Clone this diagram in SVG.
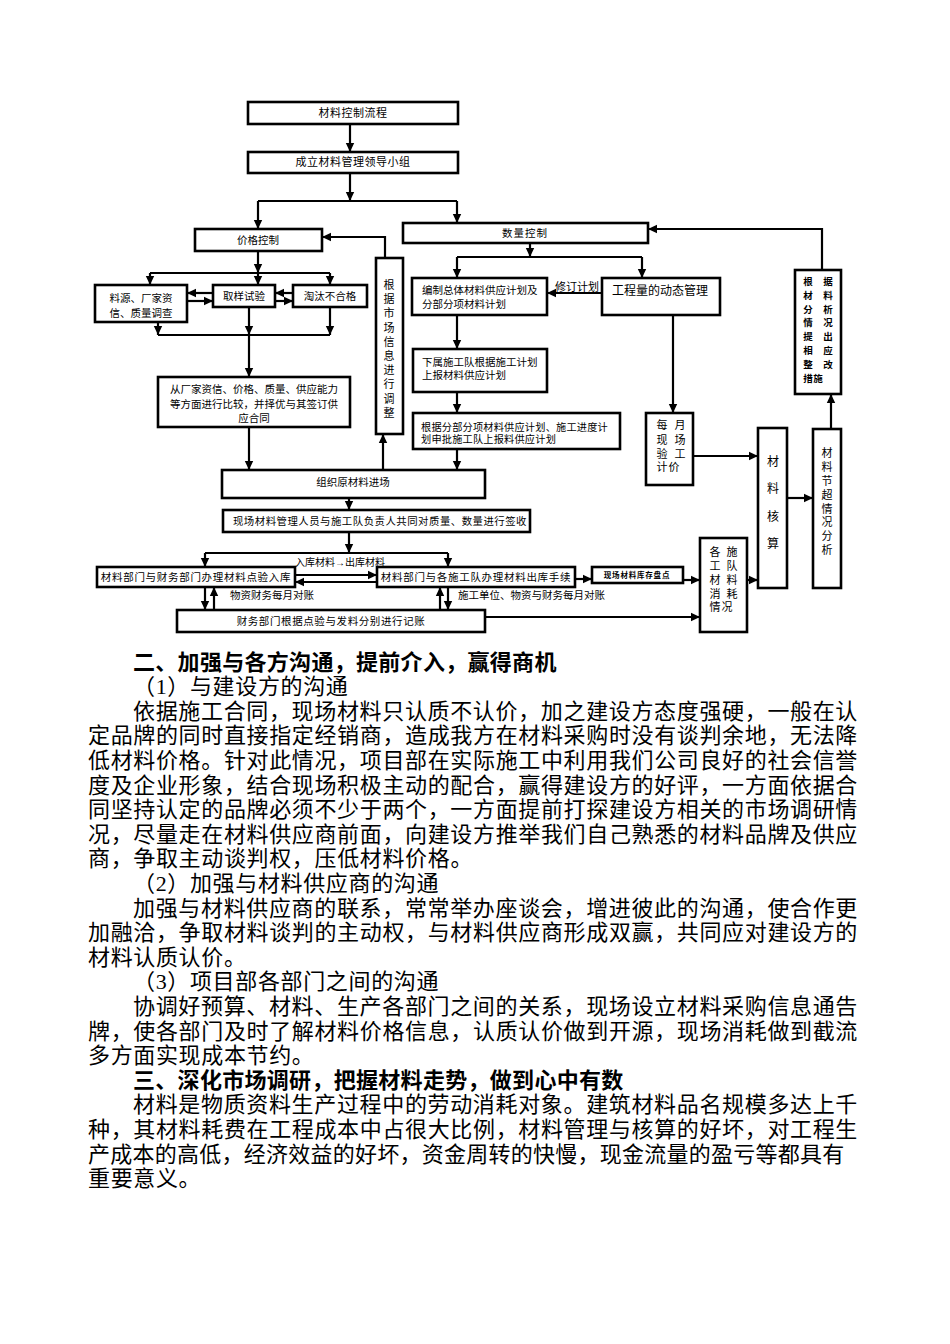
<svg xmlns="http://www.w3.org/2000/svg" width="950" height="1344" viewBox="0 0 950 1344">
<style>
.box{fill:#fff;stroke:#000;stroke-width:2.6}
.c{fill:none;stroke:#000;stroke-width:2.2}
.a{fill:none;stroke:#000;stroke-width:2.2;marker-end:url(#ah)}
.t{font-family:"Liberation Serif","Noto Sans CJK SC",serif;font-size:10.5px;fill:#000;dominant-baseline:central}
.m{text-anchor:middle}
.b{font-family:"Liberation Serif","Noto Sans CJK SC",serif;font-size:22px;fill:#000;dominant-baseline:central;letter-spacing:0.65px}
.h{font-weight:bold;letter-spacing:0.3px}
</style>
<defs>
<marker id="ah" markerUnits="userSpaceOnUse" markerWidth="10" markerHeight="10" refX="9" refY="5" orient="auto">
<path d="M0,0.8 L9,5 L0,9.2 z" fill="#000"/>
</marker>
</defs>
<rect width="950" height="1344" fill="#fff"/>

<g id="connectors">
<path class="a" d="M350,124 V152"/>
<path class="a" d="M350,173 V201"/>
<path class="c" d="M258,201 H457"/>
<path class="a" d="M258,201 V229"/>
<path class="a" d="M457,201 V223"/>
<path class="a" d="M385,258 V237 H322"/>
<path class="a" d="M822,270 V229 H648"/>
<path class="a" d="M258,251 V273"/>
<path class="c" d="M150,273 H330"/>
<path class="a" d="M150,273 V285"/>
<path class="a" d="M258,273 V285"/>
<path class="a" d="M330,273 V285"/>
<path class="a" d="M213,293 H187"/>
<path class="a" d="M187,301 H213"/>
<path class="a" d="M293,293 H275"/>
<path class="a" d="M275,301 H293"/>
<path class="a" d="M158,322 V335"/>
<path class="a" d="M249,307 V335"/>
<path class="a" d="M330,307 V335"/>
<path class="c" d="M158,335 H330"/>
<path class="a" d="M249,335 V377"/>
<path class="a" d="M249,427 V470"/>
<path class="a" d="M383,470 V434"/>
<path class="a" d="M530,243 V257"/>
<path class="c" d="M457,257 H642"/>
<path class="a" d="M457,257 V278"/>
<path class="a" d="M642,257 V278"/>
<path class="a" d="M602,293 H547"/>
<path class="a" d="M457,315 V349"/>
<path class="a" d="M457,392 V413"/>
<path class="a" d="M457,449 V470"/>
<path class="a" d="M673,315 V413"/>
<path class="a" d="M693,456 H758"/>
<path class="a" d="M787,498 H813"/>
<path class="a" d="M831,429 V394"/>
<path class="a" d="M349,498 V510"/>
<path class="a" d="M349,532 V553"/>
<path class="c" d="M205,553 H448"/>
<path class="a" d="M205,553 V567"/>
<path class="a" d="M448,553 V567"/>
<path class="a" d="M295,575 H377"/>
<path class="a" d="M377,582 H295"/>
<path class="a" d="M205,587 V610"/>
<path class="a" d="M214,610 V587"/>
<path class="a" d="M440,610 V587"/>
<path class="a" d="M448,587 V610"/>
<path class="a" d="M575,579 H592"/>
<path class="a" d="M683,580 H700"/>
<path class="a" d="M485,617 H700"/>
<path class="a" d="M747,580 H758"/>
<text class="t" x="295" y="562" style="font-size:10px">入库材料→出库材料</text>
<text class="t" x="555" y="287" style="font-size:11px">修订计划</text>
<text class="t" x="230" y="595">物资财务每月对账</text>
<text class="t" x="458" y="595">施工单位、物资与财务每月对账</text>
</g>

<g id="n1"><rect class="box" x="248" y="102" width="210" height="22"/><text class="t m" x="353" y="113" style="font-size:11px;letter-spacing:0.5px">材料控制流程</text></g>
<g id="n2"><rect class="box" x="248" y="152" width="210" height="21"/><text class="t m" x="353" y="162" style="font-size:11px;letter-spacing:0.5px">成立材料管理领导小组</text></g>
<g id="n3"><rect class="box" x="195" y="229" width="127" height="22"/><text class="t m" x="258" y="240">价格控制</text></g>
<g id="n4"><rect class="box" x="403" y="223" width="245" height="20"/><text class="t m" x="525" y="233" style="letter-spacing:1px">数量控制</text></g>
<g id="n5"><rect class="box" x="412" y="278" width="135" height="37"/><text class="t" x="422" y="290">编制总体材料供应计划及</text><text class="t" x="422" y="304">分部分项材料计划</text></g>
<g id="n6"><rect class="box" x="602" y="278" width="118" height="37"/><text class="t" x="612" y="291" style="font-size:12px">工程量的动态管理</text></g>
<g id="n7"><rect class="box" x="413" y="349" width="134" height="43"/><text class="t" x="422" y="362">下属施工队根据施工计划</text><text class="t" x="422" y="375">上报材料供应计划</text></g>
<g id="n8"><rect class="box" x="413" y="413" width="207" height="36"/><text class="t" x="421" y="427" style="font-size:10.2px;letter-spacing:0.2px">根据分部分项材料供应计划、施工进度计</text><text class="t" x="421" y="439" style="font-size:10.2px;letter-spacing:0.2px">划申批施工队上报料供应计划</text></g>
<g id="n9"><rect class="box" x="376" y="258" width="27" height="176"/>
<text class="t m" style="font-size:11px"><tspan x="389" y="285">根</tspan><tspan x="389" y="299">据</tspan><tspan x="389" y="313">市</tspan><tspan x="389" y="328">场</tspan><tspan x="389" y="342">信</tspan><tspan x="389" y="356">息</tspan><tspan x="389" y="370">进</tspan><tspan x="389" y="384">行</tspan><tspan x="389" y="399">调</tspan><tspan x="389" y="413">整</tspan></text></g>
<g id="n10"><rect class="box" x="95" y="285" width="92" height="37"/><text class="t m" x="141" y="298">料源、厂家资</text><text class="t m" x="141" y="313">信、质量调查</text></g>
<g id="n11"><rect class="box" x="213" y="285" width="62" height="22"/><text class="t m" x="244" y="296">取样试验</text></g>
<g id="n12"><rect class="box" x="293" y="285" width="74" height="22"/><text class="t m" x="330" y="296">淘汰不合格</text></g>
<g id="n13"><rect class="box" x="158" y="377" width="192" height="50"/><text class="t m" x="254" y="389">从厂家资信、价格、质量、供应能力</text><text class="t m" x="254" y="404">等方面进行比较，并择优与其签订供</text><text class="t m" x="254" y="418">应合同</text></g>
<g id="n14"><rect class="box" x="222" y="470" width="263" height="28"/><text class="t m" x="353" y="482">组织原材料进场</text></g>
<g id="n15"><rect class="box" x="223" y="510" width="307" height="22"/><text class="t m" x="380" y="521" style="font-size:10.4px;letter-spacing:0.5px">现场材料管理人员与施工队负责人共同对质量、数量进行签收</text></g>
<g id="n16"><rect class="box" x="97" y="567" width="198" height="20"/><text class="t m" x="196" y="577" style="letter-spacing:0.7px">材料部门与财务部门办理材料点验入库</text></g>
<g id="n17"><rect class="box" x="377" y="567" width="198" height="20"/><text class="t m" x="476" y="577" style="letter-spacing:0.7px">材料部门与各施工队办理材料出库手续</text></g>
<g id="n18"><rect class="box" x="592" y="567" width="91" height="16"/><text class="t m" x="637" y="575" style="font-size:7.5px;font-weight:bold;letter-spacing:0.8px">现场材料库存盘点</text></g>
<g id="n19"><rect class="box" x="177" y="610" width="308" height="22"/><text class="t m" x="331" y="621" style="letter-spacing:0.6px">财务部门根据点验与发料分别进行记账</text></g>
<g id="n20"><rect class="box" x="700" y="538" width="47" height="94"/>
<text class="t m" style="font-size:11px"><tspan x="715" y="552">各</tspan><tspan x="732" y="552">施</tspan><tspan x="715" y="566">工</tspan><tspan x="732" y="566">队</tspan><tspan x="715" y="580">材</tspan><tspan x="732" y="580">料</tspan><tspan x="715" y="594">消</tspan><tspan x="732" y="594">耗</tspan><tspan x="715" y="607">情</tspan><tspan x="727" y="607">况</tspan></text></g>
<g id="n21"><rect class="box" x="646" y="413" width="47" height="72"/>
<text class="t m" style="font-size:11px"><tspan x="662" y="425">每</tspan><tspan x="680" y="425">月</tspan><tspan x="662" y="440">现</tspan><tspan x="680" y="440">场</tspan><tspan x="662" y="454">验</tspan><tspan x="680" y="454">工</tspan><tspan x="662" y="467">计</tspan><tspan x="674" y="467">价</tspan></text></g>
<g id="n22"><rect class="box" x="758" y="428" width="29" height="160"/>
<text class="t m" style="font-size:12px"><tspan x="773" y="462">材</tspan><tspan x="773" y="489">料</tspan><tspan x="773" y="517">核</tspan><tspan x="773" y="544">算</tspan></text></g>
<g id="n23"><rect class="box" x="813" y="429" width="28" height="159"/>
<text class="t m" style="font-size:11px"><tspan x="827" y="453">材</tspan><tspan x="827" y="467">料</tspan><tspan x="827" y="481">节</tspan><tspan x="827" y="495">超</tspan><tspan x="827" y="509">情</tspan><tspan x="827" y="522">况</tspan><tspan x="827" y="536">分</tspan><tspan x="827" y="550">析</tspan></text></g>
<g id="n24"><rect class="box" x="795" y="270" width="46" height="124"/>
<text class="t m" style="font-size:9.5px;font-weight:bold"><tspan x="808" y="282">根</tspan><tspan x="828" y="282">据</tspan><tspan x="808" y="296">材</tspan><tspan x="828" y="296">料</tspan><tspan x="808" y="310">分</tspan><tspan x="828" y="310">析</tspan><tspan x="808" y="323">情</tspan><tspan x="828" y="323">况</tspan><tspan x="808" y="337">提</tspan><tspan x="828" y="337">出</tspan><tspan x="808" y="351">相</tspan><tspan x="828" y="351">应</tspan><tspan x="808" y="365">整</tspan><tspan x="828" y="365">改</tspan><tspan x="808" y="379">措</tspan><tspan x="818" y="379">施</tspan></text></g>

<g id="body">
<text class="b h" x="133" y="662">二、加强与各方沟通，提前介入，赢得商机</text>
<text class="b" x="133" y="686.6">（1）与建设方的沟通</text>
<text class="b" x="133" y="711.2" textLength="725" lengthAdjust="spacing">依据施工合同，现场材料只认质不认价，加之建设方态度强硬，一般在认</text>
<text class="b" x="88" y="735.8" textLength="770" lengthAdjust="spacing">定品牌的同时直接指定经销商，造成我方在材料采购时没有谈判余地，无法降</text>
<text class="b" x="88" y="760.4" textLength="770" lengthAdjust="spacing">低材料价格。针对此情况，项目部在实际施工中利用我们公司良好的社会信誉</text>
<text class="b" x="88" y="785" textLength="770" lengthAdjust="spacing">度及企业形象，结合现场积极主动的配合，赢得建设方的好评，一方面依据合</text>
<text class="b" x="88" y="809.6" textLength="770" lengthAdjust="spacing">同坚持认定的品牌必须不少于两个，一方面提前打探建设方相关的市场调研情</text>
<text class="b" x="88" y="834.2" textLength="770" lengthAdjust="spacing">况，尽量走在材料供应商前面，向建设方推举我们自己熟悉的材料品牌及供应</text>
<text class="b" x="88" y="858.8">商，争取主动谈判权，压低材料价格。</text>
<text class="b" x="133" y="883.4">（2）加强与材料供应商的沟通</text>
<text class="b" x="133" y="908" textLength="725" lengthAdjust="spacing">加强与材料供应商的联系，常常举办座谈会，增进彼此的沟通，使合作更</text>
<text class="b" x="88" y="932.6" textLength="770" lengthAdjust="spacing">加融洽，争取材料谈判的主动权，与材料供应商形成双赢，共同应对建设方的</text>
<text class="b" x="88" y="957.2">材料认质认价。</text>
<text class="b" x="133" y="981.8">（3）项目部各部门之间的沟通</text>
<text class="b" x="133" y="1006.4" textLength="725" lengthAdjust="spacing">协调好预算、材料、生产各部门之间的关系，现场设立材料采购信息通告</text>
<text class="b" x="88" y="1031" textLength="770" lengthAdjust="spacing">牌，使各部门及时了解材料价格信息，认质认价做到开源，现场消耗做到截流</text>
<text class="b" x="88" y="1055.6">多方面实现成本节约。</text>
<text class="b h" x="133" y="1080.2">三、深化市场调研，把握材料走势，做到心中有数</text>
<text class="b" x="133" y="1104.8" textLength="725" lengthAdjust="spacing">材料是物质资料生产过程中的劳动消耗对象。建筑材料品名规模多达上千</text>
<text class="b" x="88" y="1129.4" textLength="770" lengthAdjust="spacing">种，其材料耗费在工程成本中占很大比例，材料管理与核算的好坏，对工程生</text>
<text class="b" x="88" y="1154" textLength="757" lengthAdjust="spacing">产成本的高低，经济效益的好坏，资金周转的快慢，现金流量的盈亏等都具有</text>
<text class="b" x="88" y="1178.6">重要意义。</text>
</g>
</svg>
